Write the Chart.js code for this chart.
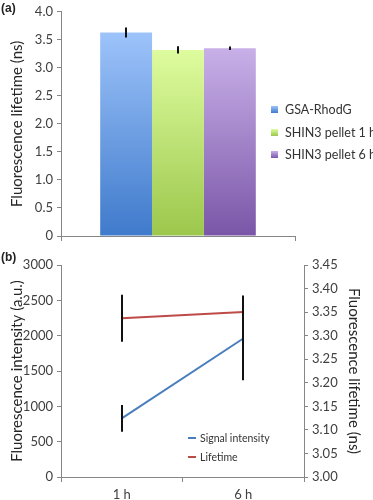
<!DOCTYPE html>
<html>
<head>
<meta charset="utf-8">
<script src="https://cdn.jsdelivr.net/npm/chart.js@4.4.0/dist/chart.umd.min.js"></script>
<style>
  body { margin: 0; width: 373px; height: 500px; overflow: hidden; background: #fff; position: relative; font-family: Lato, sans-serif; }
  .wrap { position: absolute; left: 0; width: 373px; height: 250px; }
  .tag { position: absolute; left: 1px; font: bold 12px "Liberation Sans", Arial, sans-serif; color: #222; }
  .legend { position: absolute; white-space: nowrap; color: #333; }
  .legend .sw { position: absolute; }
  .legend .txt { position: absolute; }
</style>
</head>
<body>
<div class="wrap" style="top:0"><canvas id="barChart" width="373" height="250"></canvas></div>
<div class="wrap" style="top:250px"><canvas id="lineChart" width="373" height="250"></canvas></div>
<div class="tag" style="top:1px">(a)</div>
<div class="tag" style="top:250px">(b)</div>
<div class="legend" id="barLegend" style="left:271px;top:0"></div>
<div class="legend" id="lineLegend" style="left:188px;top:0"></div>

<script>
// (a) lifetime per sample
const groups = ['GSA-RhodG', 'SHIN3 pellet 1 h', 'SHIN3 pellet 6 h'];
const lifetimes = [3.63, 3.32, 3.35];
const lifetimeErrs = [0.09, 0.065, 0.03];
const barTop = ['#9DC3FA', '#DEFC9E', '#C8B0E8'];
const barBottom = ['#3F7ACB', '#9CC74C', '#7B56A8'];

// (b) time course
const timePoints = ['1 h', '6 h'];
const signalIntensity = [830, 1960];
const signalErr = [190, 590];
const lifetimeTrend = [3.337, 3.35];
const lifetimeTrendErr = [0.05, 0.035];

const axisGray = '#868686';
const tickColor = '#404040';
const titleColor = '#262626';

// black error bars, read from dataset.errors
const errorBars = {
  id: 'errorBars',
  afterDatasetsDraw(chart) {
    const c = chart.ctx;
    c.save();
    c.strokeStyle = '#111';
    c.lineWidth = 2;
    chart.data.datasets.forEach((ds, i) => {
      if (!ds.errors) return;
      const meta = chart.getDatasetMeta(i);
      const scale = chart.scales[meta.yAxisID];
      meta.data.forEach((el, j) => {
        const v = ds.data[j], e = ds.errors[j];
        c.beginPath();
        c.moveTo(Math.round(el.x), scale.getPixelForValue(v + e));
        c.lineTo(Math.round(el.x), scale.getPixelForValue(v - e));
        c.stroke();
      });
    });
    c.restore();
  }
};

function barFill(i) {
  return (ctx) => {
    const chart = ctx.chart;
    const y = chart.scales.y;
    if (!y || !chart.chartArea) return barBottom[i];
    const g = chart.ctx.createLinearGradient(0, y.getPixelForValue(lifetimes[i]), 0, y.getPixelForValue(0));
    g.addColorStop(0, barTop[i]);
    g.addColorStop(1, barBottom[i]);
    return g;
  };
}

new Chart(document.getElementById('barChart'), {
  type: 'bar',
  data: {
    labels: [''],
    datasets: groups.map((g, i) => ({
      label: g,
      data: [lifetimes[i]],
      errors: [lifetimeErrs[i]],
      backgroundColor: barFill(i),
      borderWidth: 0,
      categoryPercentage: 0.665,
      barPercentage: 1
    }))
  },
  options: {
    responsive: false,
    animation: false,
    devicePixelRatio: 1,
    layout: { padding: { top: 7, right: 78, left: 0, bottom: 0 } },
    plugins: { legend: { display: false }, tooltip: { enabled: false } },
    scales: {
      x: {
        grid: { offset: true, drawOnChartArea: false, drawTicks: true, tickLength: 5, color: axisGray },
        border: { color: axisGray },
        ticks: { display: false },
        afterFit: s => { s.height = 14; }
      },
      y: {
        min: 0, max: 4,
        ticks: {
          stepSize: 0.5, padding: 4, color: tickColor,
          font: { family: 'Lato', size: 13 },
          callback: v => v === 0 ? '0' : v.toFixed(1)
        },
        grid: { drawOnChartArea: false, tickLength: 4, color: axisGray },
        border: { color: axisGray },
        title: {
          display: true, text: 'Fluorescence lifetime (ns)', color: titleColor,
          font: { family: 'Lato', size: 15 }, padding: { top: 8, bottom: 0 }
        },
        afterFit: s => { s.width = 61; }
      }
    }
  },
  plugins: [errorBars]
});

new Chart(document.getElementById('lineChart'), {
  type: 'line',
  data: {
    labels: timePoints,
    datasets: [
      { label: 'Signal intensity', data: signalIntensity, errors: signalErr, yAxisID: 'y',
        borderColor: '#4A7EBB', borderWidth: 2, pointRadius: 0, fill: false },
      { label: 'Lifetime', data: lifetimeTrend, errors: lifetimeTrendErr, yAxisID: 'y1',
        borderColor: '#BE4B48', borderWidth: 2, pointRadius: 0, fill: false }
    ]
  },
  options: {
    responsive: false,
    animation: false,
    devicePixelRatio: 1,
    layout: { padding: { top: 15, right: 0, left: 0, bottom: 0 } },
    plugins: { legend: { display: false }, tooltip: { enabled: false } },
    scales: {
      x: {
        offset: true,
        grid: { offset: true, drawOnChartArea: false, tickLength: 5, color: axisGray },
        border: { color: axisGray },
        ticks: { padding: 5, color: tickColor, font: { family: 'Lato', size: 13 } },
        afterFit: s => { s.height = 23; }
      },
      y: {
        position: 'left', min: 0, max: 3000,
        ticks: { stepSize: 500, padding: 4, color: tickColor, font: { family: 'Lato', size: 13 },
          callback: v => String(v) },
        grid: { drawOnChartArea: false, tickLength: 4, color: axisGray },
        border: { color: axisGray },
        title: {
          display: true, text: 'Fluorescence intensity (a.u.)', color: titleColor,
          font: { family: 'Lato', size: 15 }, padding: { top: 8, bottom: 0 }
        },
        afterFit: s => { s.width = 61; }
      },
      y1: {
        position: 'right', min: 3.0, max: 3.45,
        ticks: { stepSize: 0.05, padding: 4, color: tickColor, font: { family: 'Lato', size: 13 },
          callback: v => v.toFixed(2) },
        grid: { drawOnChartArea: false, tickLength: 4, color: axisGray },
        border: { color: axisGray },
        title: {
          display: true, text: 'Fluorescence lifetime (ns)', color: titleColor,
          font: { family: 'Lato', size: 15 }, padding: { top: 10, bottom: 0 }
        },
        afterFit: s => { s.width = 69; }
      }
    }
  },
  plugins: [errorBars]
});

// legends as HTML overlays
const barLegend = document.getElementById('barLegend');
groups.forEach((g, i) => {
  const top = [110, 133, 155][i];
  barLegend.innerHTML +=
    `<div class="sw" style="left:0;top:${top - 4}px;width:7px;height:7px;background:linear-gradient(${barTop[i]},${barBottom[i]})"></div>` +
    `<div class="txt" style="left:14px;top:${top - 9}px;font-size:12.5px;line-height:18px">${g}</div>`;
});
const lineLegend = document.getElementById('lineLegend');
[['Signal intensity', '#4A7EBB', 438], ['Lifetime', '#BE4B48', 457]].forEach(([t, col, y]) => {
  lineLegend.innerHTML +=
    `<div class="sw" style="left:0;top:${y - 1}px;width:8px;height:2px;background:${col}"></div>` +
    `<div class="txt" style="left:12px;top:${y - 7}px;font-size:10.5px;line-height:14px">${t}</div>`;
});
</script>
</body>
</html>
